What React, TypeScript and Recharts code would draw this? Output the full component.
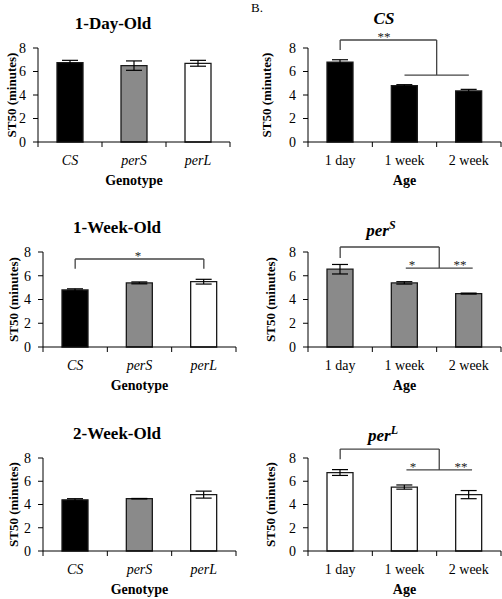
import React from 'react';
import {
    BarChart,
    Bar,
    XAxis,
    YAxis,
    Cell,
    ErrorBar,
    ReferenceLine,
    ReferenceDot
} from 'recharts';

// categories and tick labels
const genotypes = ['CS', 'perS', 'perL'];
const ages = ['1 day', '1 week', '2 week'];
const yTicks = [0, 2, 4, 6, 8];

// ST50 means and SEM
const day1Means = [6.75, 6.5, 6.7];
const day1Errs = [0.2, 0.4, 0.25];
const week1Means = [4.8, 5.4, 5.5];
const week1Errs = [0.1, 0.08, 0.2];
const week2Means = [4.4, 4.5, 4.85];
const week2Errs = [0.1, 0.02, 0.3];
const csMeans = [6.8, 4.8, 4.35];
const csErrs = [0.2, 0.08, 0.13];
const perSMeans = [6.55, 5.4, 4.5];
const perSErrs = [0.4, 0.1, 0.04];
const perLMeans = [6.75, 5.5, 4.85];
const perLErrs = [0.25, 0.18, 0.35];

// significance brackets, in data units (x runs 0..3 across the three categories)
const week1Bracket = [[0.5, 6.6, 0.5, 7.41], [0.5, 7.41, 2.5, 7.41], [2.5, 7.41, 2.5, 6.6]];
const week1Stars = [{ x: 1.47, y: 7.75, text: '*' }];
const csBracket = [[0.5, 7.83, 0.5, 8.68], [0.5, 8.68, 2.0, 8.68], [2.0, 8.68, 2.0, 5.7], [1.5, 5.7, 2.5, 5.7]];
const csStars = [{ x: 1.18, y: 9.0, text: '**' }];
const perSBracket = [[0.5, 7.5, 0.5, 8.42], [0.5, 8.42, 2.04, 8.42], [2.04, 8.42, 2.04, 6.65], [1.52, 6.65, 2.56, 6.65]];
const perSStars = [{ x: 1.62, y: 6.95, text: '*' }, { x: 2.36, y: 6.95, text: '**' }];
const perLBracket = [[0.5, 7.9, 0.5, 8.77], [0.5, 8.77, 2.04, 8.77], [2.04, 8.77, 2.04, 6.97], [1.53, 6.97, 2.55, 6.97]];
const perLStars = [{ x: 1.63, y: 7.27, text: '*' }, { x: 2.38, y: 7.27, text: '**' }];

const BLACK = '#000000';
const GRAY = '#8a8a8a';
const WHITE = '#ffffff';

const FONT = '"Liberation Serif", "DejaVu Serif", serif';
const TICK_SIZE = 5;
const TICK_MARGIN = 8;
const X_AXIS_H = 45;

const CategoryTick = (props: any) => {
    const { x, y, payload, index, italic } = props;
    const half = payload && typeof payload.offset === 'number' && payload.offset > 0 ? payload.offset : 32;
    const top = y - TICK_MARGIN - TICK_SIZE;
    return (
        <g>
            {index === 0 && (
                <line x1={x - half} x2={x - half} y1={top} y2={top + TICK_SIZE} stroke="#000" />
            )}
            <line x1={x + half} x2={x + half} y1={top} y2={top + TICK_SIZE} stroke="#000" />
            <text
                x={x}
                y={y}
                dy="0.71em"
                textAnchor="middle"
                fontSize={14}
                fontStyle={italic ? 'italic' : 'normal'}
                fontFamily={FONT}
                fill="#000"
            >
                {payload.value}
            </text>
        </g>
    );
};

const YTitle = (props: any) => {
    const vb = props.viewBox || { x: 0, y: 0, width: 0, height: 0 };
    const cx = vb.x + props.pos;
    const cy = vb.y + vb.height / 2;
    return (
        <text
            x={cx}
            y={cy}
            transform={`rotate(-90 ${cx} ${cy})`}
            textAnchor="middle"
            dominantBaseline="central"
            fontWeight="bold"
            fontSize={13}
            fontFamily={FONT}
            fill="#000"
        >
            ST50 (minutes)
        </text>
    );
};

const XTitle = (props: any) => {
    const vb = props.viewBox || { x: 0, y: 0, width: 0, height: 0 };
    return (
        <text
            x={vb.x + vb.width / 2}
            y={vb.y + 43}
            textAnchor="middle"
            fontWeight="bold"
            fontSize={14}
            fontFamily={FONT}
            fill="#000"
        >
            {props.text}
        </text>
    );
};

const StarLabel = (props: any) => {
    const vb = props.viewBox || { x: 0, y: 0, width: 0, height: 0 };
    return (
        <text
            x={Math.round(vb.x + (vb.width || 0) / 2)}
            y={Math.round(vb.y + (vb.height || 0) / 2)}
            textAnchor="middle"
            dominantBaseline="central"
            fontSize={13}
            fontFamily={FONT}
            fill="#222"
        >
            {props.text}
        </text>
    );
};

type PanelProps = {
    left: number;
    top: number;
    plotLeft: number;
    plotRight: number;
    plotTop: number;
    plotBottom: number;
    titleX: number;
    titleY: number;
    yLabelX: number;
    title: React.ReactNode;
    xLabel: string;
    categories: string[];
    means: number[];
    errs: number[];
    fills: string[];
    italicTicks?: boolean;
    bracket?: number[][];
    stars?: { x: number; y: number; text: string }[];
};

const Panel: React.FC<PanelProps> = (p) => {
    const data = p.categories.map((c, i) => ({ name: c, mean: p.means[i], err: p.errs[i] }));
    const W = 251;
    const H = 200;
    return (
        <div style={{ position: 'absolute', left: p.left, top: p.top, width: W, height: H }}>
            <BarChart
                width={W}
                height={H}
                data={data}
                margin={{ top: p.plotTop, right: W - p.plotRight, bottom: H - p.plotBottom - X_AXIS_H, left: 0 }}
            >
                <XAxis
                    xAxisId="cat"
                    dataKey="name"
                    height={X_AXIS_H}
                    stroke="#000"
                    tickLine={false}
                    tickSize={TICK_SIZE}
                    tickMargin={TICK_MARGIN}
                    tick={<CategoryTick italic={p.italicTicks} />}
                    interval={0}
                    label={<XTitle text={p.xLabel} />}
                />
                {/* linear helper axis spanning the three category bands, used for the brackets */}
                <XAxis
                    xAxisId="num"
                    dataKey="mean"
                    type="number"
                    scale="linear"
                    domain={[0, 3]}
                    allowDataOverflow
                    hide
                />
                <YAxis
                    width={p.plotLeft}
                    domain={[0, 8]}
                    ticks={yTicks}
                    interval={0}
                    stroke="#000"
                    tickSize={TICK_SIZE}
                    tickMargin={7}
                    tick={{ fontSize: 14, fill: '#000', fontFamily: FONT }}
                    label={<YTitle pos={p.yLabelX} />}
                />
                <Bar
                    xAxisId="cat"
                    dataKey="mean"
                    barSize={26}
                    stroke="#1a1a1a"
                    strokeWidth={1.3}
                    isAnimationActive={false}
                >
                    {data.map((d, i) => (
                        <Cell key={d.name} fill={p.fills[i]} />
                    ))}
                    <ErrorBar dataKey="err" direction="y" width={8} stroke="#000" strokeWidth={1.2} />
                </Bar>
                {(p.bracket || []).map((s, i) => (
                    <ReferenceLine
                        key={'b' + i}
                        xAxisId="num"
                        segment={[{ x: s[0], y: s[1] }, { x: s[2], y: s[3] }]}
                        stroke="#444"
                        strokeWidth={1.3}
                        ifOverflow="visible"
                    />
                ))}
                {(p.stars || []).map((s, i) => (
                    <ReferenceDot
                        key={'s' + i}
                        xAxisId="num"
                        x={s.x}
                        y={s.y}
                        r={0}
                        fill="none"
                        stroke="none"
                        ifOverflow="visible"
                        label={<StarLabel text={s.text} />}
                    />
                ))}
            </BarChart>
            <div
                style={{
                    position: 'absolute',
                    left: p.titleX,
                    top: p.titleY,
                    transform: 'translate(-50%, -50%)',
                    fontFamily: FONT,
                    fontWeight: 'bold',
                    fontSize: 17,
                    lineHeight: 1,
                    whiteSpace: 'nowrap',
                    color: '#000'
                }}
            >
                {p.title}
            </div>
        </div>
    );
};

const superTitle = (base: string, sup: string) => (
    <i>
        {base}
        <sup style={{ fontSize: 12, verticalAlign: 'super', lineHeight: 0 }}>{sup}</sup>
    </i>
);

const App: React.FC = () => {
    return (
        <div
            style={{
                position: 'absolute',
                left: 0,
                top: 0,
                width: 502,
                height: 599,
                overflow: 'hidden',
                background: '#fff',
                fontFamily: FONT
            }}
        >
            <div style={{ position: 'absolute', left: 251, top: 1, fontSize: 13, lineHeight: 1, color: '#000' }}>B.</div>
            <Panel
                left={0} top={0} plotLeft={38} plotRight={230} plotTop={48} plotBottom={142}
                titleX={113} titleY={23} yLabelX={11}
                title="1-Day-Old" xLabel="Genotype" categories={genotypes}
                means={day1Means} errs={day1Errs} fills={[BLACK, GRAY, WHITE]} italicTicks
            />
            <Panel
                left={251} top={0} plotLeft={57} plotRight={250} plotTop={48} plotBottom={142}
                titleX={133} titleY={18} yLabelX={15}
                title={<i>CS</i>} xLabel="Age" categories={ages}
                means={csMeans} errs={csErrs} fills={[BLACK, BLACK, BLACK]}
                bracket={csBracket} stars={csStars}
            />
            <Panel
                left={0} top={200} plotLeft={43} plotRight={236} plotTop={52} plotBottom={147}
                titleX={117} titleY={27} yLabelX={13}
                title="1-Week-Old" xLabel="Genotype" categories={genotypes}
                means={week1Means} errs={week1Errs} fills={[BLACK, GRAY, WHITE]} italicTicks
                bracket={week1Bracket} stars={week1Stars}
            />
            <Panel
                left={251} top={200} plotLeft={57} plotRight={250} plotTop={52} plotBottom={147}
                titleX={130} titleY={30} yLabelX={19}
                title={superTitle('per', 'S')} xLabel="Age" categories={ages}
                means={perSMeans} errs={perSErrs} fills={[GRAY, GRAY, GRAY]}
                bracket={perSBracket} stars={perSStars}
            />
            <Panel
                left={0} top={400} plotLeft={43} plotRight={236} plotTop={58} plotBottom={151}
                titleX={117} titleY={33} yLabelX={13}
                title="2-Week-Old" xLabel="Genotype" categories={genotypes}
                means={week2Means} errs={week2Errs} fills={[BLACK, GRAY, WHITE]} italicTicks
            />
            <Panel
                left={251} top={400} plotLeft={57} plotRight={250} plotTop={58} plotBottom={151}
                titleX={132} titleY={35} yLabelX={19}
                title={superTitle('per', 'L')} xLabel="Age" categories={ages}
                means={perLMeans} errs={perLErrs} fills={[WHITE, WHITE, WHITE]}
                bracket={perLBracket} stars={perLStars}
            />
        </div>
    );
};

export default App;
